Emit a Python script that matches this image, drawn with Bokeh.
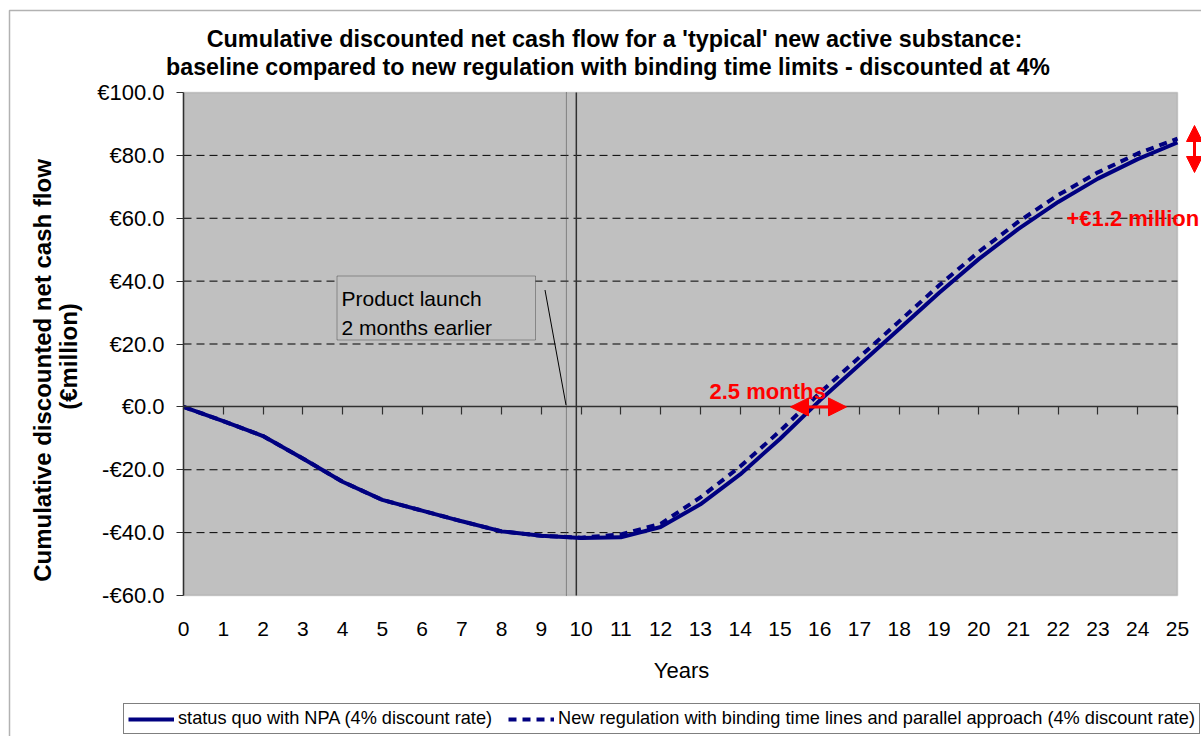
import math
from bokeh.plotting import figure
from bokeh.models import (Range1d, FixedTicker, Label, BoxAnnotation, Arrow, NormalHead,
                          Legend, LegendItem, LinearAxis)
from bokeh.embed import file_html
from bokeh.resources import INLINE

# ---------------- data ----------------
years = list(range(0, 26))
status_quo = [0.0, -4.5, -9.3, -16.4, -23.8, -29.6, -33.0, -36.4, -39.6, -41.0, -41.7,
              -41.5, -38.2, -31.0, -21.5, -10.2, 2.0, 13.4, 24.8, 36.2, 47.0, 56.6,
              65.2, 72.6, 78.8, 84.1]
new_regulation = [0.0, -4.5, -9.3, -16.4, -23.8, -29.6, -33.0, -36.4, -39.6, -41.0, -41.6,
                  -40.6, -37.2, -28.8, -19.0, -7.7, 4.4, 15.8, 27.2, 38.6, 49.3, 58.9,
                  67.4, 74.6, 80.6, 85.3]
series_names = ["status quo with NPA (4% discount rate)",
                "New regulation with binding time lines and parallel approach (4% discount rate)"]
x_ticks = list(range(0, 26))
y_ticks = [100, 80, 60, 40, 20, 0, -20, -40, -60]
y_tick_labels = ["€100.0", "€80.0", "€60.0", "€40.0", "€20.0", "€0.0", "-€20.0", "-€40.0", "-€60.0"]
grid_values = [80, 60, 40, 20, -20, -40]
launch_line_x = 9.88
launch_earlier_x = 9.63

# ---------------- geometry (page px -> data) ----------------
W, H = 1201, 736
FL, FT, FW, FH = 183.0, 92.0, 994.0, 503.0      # plot area in page pixels
XMIN, XMAX, YMIN, YMAX = 0, 25, -60, 100


def px2x(px):
    return XMIN + (px - FL) / FW * (XMAX - XMIN)


def py2y(py):
    return YMAX - (py - FT) / FH * (YMAX - YMIN)


FONT = "Liberation Sans"
NAVY = "#000080"
RED = "#FF0000"
AXC = "#303030"

p = figure(width=W, height=H, output_backend="svg", toolbar_location=None,
           x_range=Range1d(px2x(0), px2x(W)), y_range=Range1d(py2y(H), py2y(0)),
           min_border=0, background_fill_color="white", border_fill_color="white")
p.outline_line_color = None
p.xgrid.visible = False
p.ygrid.visible = False

# outer chart border and grey plot area
p.add_layout(BoxAnnotation(left=px2x(9), right=px2x(1400), top=py2y(10), bottom=py2y(900),
                           fill_alpha=0, line_color="black", line_width=1.5, level="image"))
p.add_layout(BoxAnnotation(left=XMIN, right=XMAX, top=YMAX, bottom=YMIN,
                           fill_color="#C0C0C0", fill_alpha=1, line_color="#808080",
                           line_width=1.5, level="image"))

# horizontal dashed gridlines across the plot area
p.segment(x0=[XMIN] * len(grid_values), y0=grid_values, x1=[XMAX] * len(grid_values),
          y1=grid_values, line_color="black", line_width=1, line_dash="8 5", level="underlay")

# launch vertical lines
p.segment(x0=[launch_earlier_x], y0=[YMIN], x1=[launch_earlier_x], y1=[YMAX],
          line_color="#404040", line_width=1, line_dash="1 1", level="underlay")
p.segment(x0=[launch_line_x], y0=[YMIN], x1=[launch_line_x], y1=[YMAX],
          line_color=AXC, line_width=1.5, level="underlay")

# ---------------- axes ----------------
xa = p.xaxis[0]
xa.fixed_location = YMIN
xa.bounds = (XMIN, XMAX)
xa.ticker = FixedTicker(ticks=x_ticks)
xa.axis_line_color = None
xa.major_tick_in = 0
xa.major_tick_out = 0
xa.minor_tick_line_color = None
xa.major_label_standoff = 26
xa.major_label_text_font = FONT
xa.major_label_text_font_size = "21px"
xa.major_label_text_color = "black"

# category axis line crossing at zero with its tick marks
xz = LinearAxis(fixed_location=0, bounds=(XMIN, XMAX), ticker=FixedTicker(ticks=x_ticks[1:]),
                major_label_overrides={t: "" for t in x_ticks}, axis_line_color=AXC,
                axis_line_width=1.5, major_tick_in=0, major_tick_out=8,
                major_tick_line_color=AXC, major_tick_line_width=1.2,
                minor_tick_line_color=None)
p.add_layout(xz, "below")

ya = p.yaxis[0]
ya.fixed_location = XMIN
ya.bounds = (YMIN, YMAX)
ya.ticker = FixedTicker(ticks=y_ticks)
ya.major_label_overrides = {t: l for t, l in zip(y_ticks, y_tick_labels)}
ya.axis_line_color = AXC
ya.axis_line_width = 1.5
ya.major_tick_in = 0
ya.major_tick_out = 7
ya.major_tick_line_color = AXC
ya.minor_tick_line_color = None
ya.major_label_standoff = 12
ya.major_label_text_font = FONT
ya.major_label_text_font_size = "22px"
ya.major_label_text_color = "black"

# ---------------- series ----------------
r1 = p.line(years, status_quo, line_color=NAVY, line_width=4)
r2 = p.line(years, new_regulation, line_color=NAVY, line_width=4, line_dash="8 6")

# ---------------- annotations ----------------
p.add_layout(BoxAnnotation(left=px2x(336.5), right=px2x(535), top=py2y(275.5), bottom=py2y(339.5),
                           fill_color="#C0C0C0", fill_alpha=1, line_color="black", line_width=1))
p.segment(x0=[px2x(544.5)], y0=[py2y(289.5)], x1=[px2x(565.5)], y1=[py2y(404.5)],
          line_color="black", line_width=1)
for txt, base in (("Product launch", 297.5), ("2 months earlier", 326.5)):
    p.add_layout(Label(x=px2x(341), y=py2y(base), text=txt, text_font=FONT,
                       text_font_size="21px", text_color="black", text_baseline="alphabetic"))

p.add_layout(Label(x=px2x(709), y=py2y(391), text="2.5 months", text_font=FONT,
                   text_font_size="22px", text_font_style="bold", text_color=RED,
                   text_baseline="alphabetic"))
p.add_layout(Arrow(x_start=px2x(790), y_start=0, x_end=px2x(846), y_end=0,
                   line_color=RED, line_width=3,
                   start=NormalHead(size=18, fill_color=RED, line_color=RED),
                   end=NormalHead(size=18, fill_color=RED, line_color=RED)))
p.add_layout(Label(x=px2x(1066), y=py2y(218), text="+€1.2 million", text_font=FONT,
                   text_font_size="22px", text_font_style="bold", text_color=RED,
                   text_baseline="alphabetic"))
p.add_layout(Arrow(x_start=px2x(1194), y_start=py2y(125), x_end=px2x(1194), y_end=py2y(172),
                   line_color=RED, line_width=3,
                   start=NormalHead(size=16, fill_color=RED, line_color=RED),
                   end=NormalHead(size=16, fill_color=RED, line_color=RED)))

# title
p.add_layout(Label(x=px2x(614), y=py2y(38.5), text_align="center", text_baseline="alphabetic",
                   text="Cumulative discounted net cash flow for a 'typical' new active substance:",
                   text_font=FONT, text_font_size="23.4px", text_font_style="bold", text_color="black"))
p.add_layout(Label(x=px2x(607.5), y=py2y(66.5), text_align="center", text_baseline="alphabetic",
                   text="baseline compared to new regulation with binding time limits - discounted at 4%",
                   text_font=FONT, text_font_size="23.2px", text_font_style="bold", text_color="black"))

# y axis title (two rotated lines)
p.add_layout(Label(x=px2x(42), y=py2y(370), angle=math.pi / 2, text_align="center",
                   text_baseline="middle", text="Cumulative discounted net cash flow",
                   text_font=FONT, text_font_size="24px", text_font_style="bold", text_color="black"))
p.add_layout(Label(x=px2x(67.5), y=py2y(356), angle=math.pi / 2, text_align="center",
                   text_baseline="middle", text="(€million)",
                   text_font=FONT, text_font_size="24px", text_font_style="bold", text_color="black"))

# x axis title
p.add_layout(Label(x=px2x(681), y=py2y(669.5), text_align="center", text_baseline="alphabetic",
                   text="Years", text_font=FONT, text_font_size="22px", text_color="black"))

# legend
legend = Legend(items=[LegendItem(label=series_names[0], renderers=[r1]),
                       LegendItem(label=series_names[1], renderers=[r2])],
                orientation="horizontal", location=(123, 2),
                label_text_font=FONT, label_text_font_size="18.2px", label_text_color="black",
                glyph_width=46, glyph_height=20, label_standoff=4, spacing=16, padding=4,
                margin=0, border_line_color="black", border_line_width=1,
                background_fill_color="white", background_fill_alpha=1)
p.add_layout(legend, "center")

open("out.html", "w").write(file_html(p, INLINE))
